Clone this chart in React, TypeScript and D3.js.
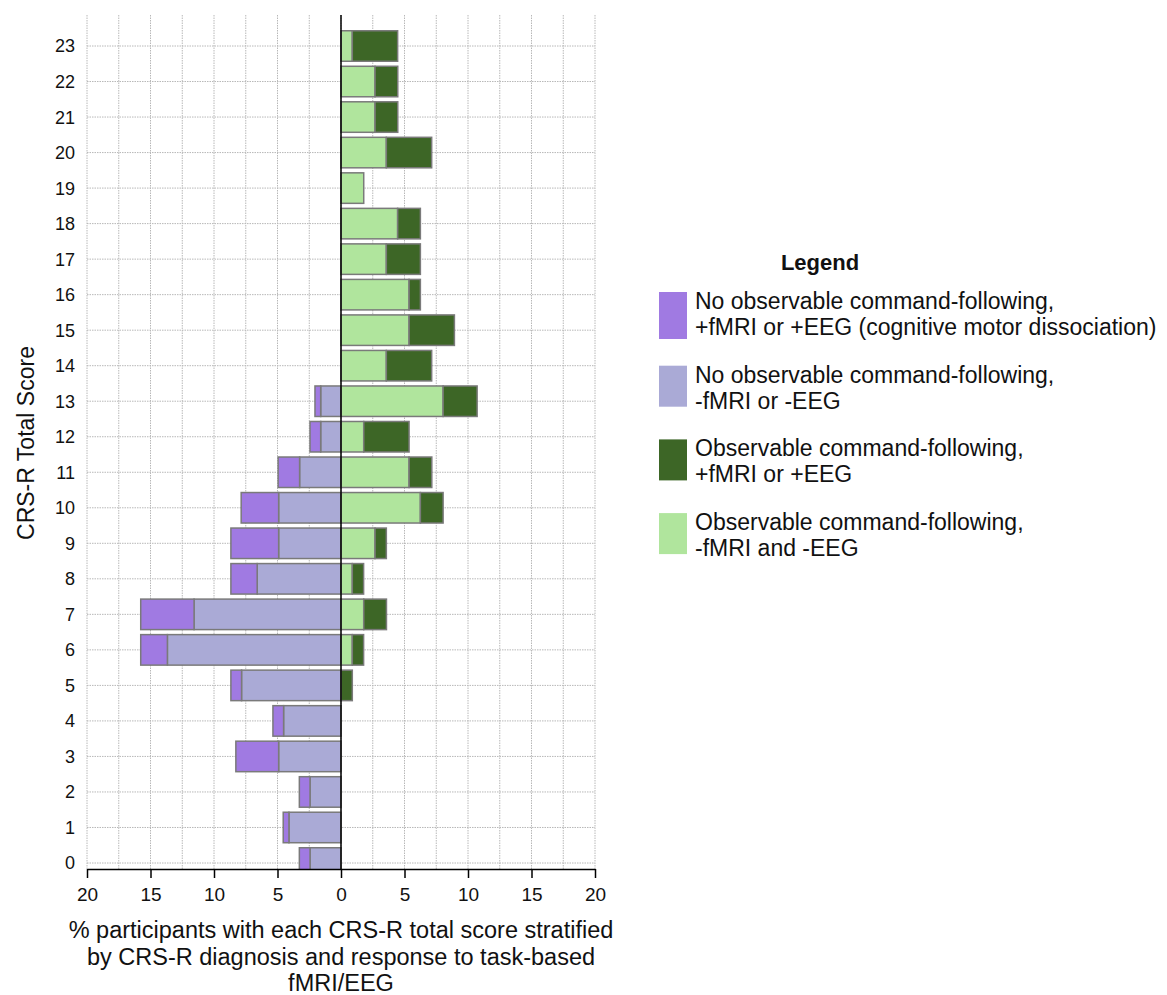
import React, { useEffect, useRef } from 'react';
import * as d3 from 'd3';

// CRS-R total score rows (0..23)
const scores = [0, 1, 2, 3, 4, 5, 6, 7, 8, 9, 10, 11, 12, 13, 14, 15, 16, 17, 18, 19, 20, 21, 22, 23];

// left side (no observable command-following), % participants
const noCmdNeg = [2.44, 4.1, 2.44, 4.91, 4.52, 7.83, 13.67, 11.57, 6.6, 4.91, 4.91, 3.26, 1.6, 1.6, 0, 0, 0, 0, 0, 0, 0, 0, 0, 0];
const noCmdPos = [0.84, 0.45, 0.84, 3.37, 0.84, 0.84, 2.1, 4.2, 2.07, 3.76, 2.95, 1.69, 0.84, 0.45, 0, 0, 0, 0, 0, 0, 0, 0, 0, 0];

// right side (observable command-following), % participants
const cmdNeg = [0, 0, 0, 0, 0, 0, 0.89, 1.79, 0.89, 2.68, 6.25, 5.36, 1.79, 8.04, 3.57, 5.36, 5.36, 3.57, 4.46, 1.79, 3.57, 2.68, 2.68, 0.89];
const cmdPos = [0, 0, 0, 0, 0, 0.89, 0.89, 1.79, 0.89, 0.89, 1.79, 1.79, 3.57, 2.68, 3.57, 3.57, 0.89, 2.68, 1.79, 0, 3.57, 1.79, 1.79, 3.57];

const xTickValues = [-20, -15, -10, -5, 0, 5, 10, 15, 20];

const legendItems = [
  { color: '#a07ae2', lines: ['No observable command-following,', '+fMRI or +EEG (cognitive motor dissociation)'] },
  { color: '#aaaad6', lines: ['No observable command-following,', '-fMRI or -EEG'] },
  { color: '#3d6626', lines: ['Observable command-following,', '+fMRI or +EEG'] },
  { color: '#b0e59d', lines: ['Observable command-following,', '-fMRI and -EEG'] },
];

const FONT = '"Liberation Sans", Arial, Helvetica, sans-serif';

export default function App() {
  const ref = useRef<SVGSVGElement>(null);

  useEffect(() => {
    const svg = d3.select(ref.current);
    svg.selectAll('*').remove();

    const left = 87, right = 595, top = 15, bottom = 869;
    const x = d3.scaleLinear().domain([-20, 20]).range([left, right]);
    const y = d3.scaleLinear().domain([0, 23]).range([863, 46]);
    const barH = 30.5;

    // clip for bars
    svg.append('defs').append('clipPath').attr('id', 'plotClip')
      .append('rect').attr('x', left).attr('y', top).attr('width', right - left).attr('height', bottom - top);

    // grid
    const grid = svg.append('g');
    grid.selectAll('line.v')
      .data(d3.range(-20, 20.01, 2.5))
      .enter().append('line')
      .attr('x1', d => x(d)).attr('x2', d => x(d))
      .attr('y1', top).attr('y2', bottom)
      .style('stroke', '#b8b8b8').style('stroke-width', 1).style('stroke-dasharray', '1.5 1');
    grid.selectAll('line.h')
      .data(scores)
      .enter().append('line')
      .attr('x1', left).attr('x2', right)
      .attr('y1', d => y(d)).attr('y2', d => y(d))
      .style('stroke', '#b8b8b8').style('stroke-width', 1).style('stroke-dasharray', '1.5 1');

    // bars
    const bars = svg.append('g').attr('clip-path', 'url(#plotClip)');
    const addSeg = (from: (i: number) => number, to: (i: number) => number, color: string) => {
      bars.selectAll(null)
        .data(scores.filter(s => Math.abs(to(s) - from(s)) > 0))
        .enter().append('rect')
        .attr('x', s => x(Math.min(from(s), to(s))))
        .attr('width', s => Math.abs(x(to(s)) - x(from(s))))
        .attr('y', s => y(s) - barH / 2)
        .attr('height', barH)
        .style('fill', color)
        .style('stroke', '#7a7a7a')
        .style('stroke-width', 1.5);
    };
    addSeg(() => 0, i => -noCmdNeg[i], legendItems[1].color);
    addSeg(i => -noCmdNeg[i], i => -(noCmdNeg[i] + noCmdPos[i]), legendItems[0].color);
    addSeg(() => 0, i => cmdNeg[i], legendItems[3].color);
    addSeg(i => cmdNeg[i], i => cmdNeg[i] + cmdPos[i], legendItems[2].color);

    // zero line
    svg.append('line')
      .attr('x1', x(0)).attr('x2', x(0)).attr('y1', top).attr('y2', bottom)
      .style('stroke', '#000').style('stroke-width', 1.5);

    // x axis
    const xAxis = svg.append('g').attr('transform', `translate(0, ${bottom})`)
      .call(d3.axisBottom(x).tickValues(xTickValues).tickSize(9).tickSizeOuter(0).tickFormat(d => String(Math.abs(+d))));
    xAxis.select('.domain').style('stroke', '#000').style('stroke-width', 1.5);
    xAxis.selectAll('.tick line').style('stroke', '#000').style('stroke-width', 1.5);
    xAxis.selectAll('.tick text').attr('y', 19).style('font-family', FONT).style('font-size', '19px').style('fill', '#111');

    // y labels
    svg.append('g').selectAll('text')
      .data(scores)
      .enter().append('text')
      .attr('x', 75).attr('y', d => y(d)).attr('dy', '0.36em')
      .attr('text-anchor', 'end')
      .style('font-family', FONT).style('font-size', '18px').style('fill', '#111')
      .text(d => d);

    // y title
    svg.append('text')
      .attr('transform', `translate(34, 443) rotate(-90)`)
      .attr('text-anchor', 'middle')
      .style('font-family', FONT).style('font-size', '23px').style('fill', '#111')
      .text('CRS-R Total Score');

    // x title
    const xt = svg.append('text')
      .attr('text-anchor', 'middle')
      .style('font-family', FONT).style('font-size', '23.5px').style('fill', '#111');
    ['% participants with each CRS-R total score stratified', 'by CRS-R diagnosis and response to task-based', 'fMRI/EEG']
      .forEach((t, i) => xt.append('tspan').attr('x', x(0)).attr('y', 938 + i * 26.5).text(t));

    // legend
    const lg = svg.append('g');
    lg.append('text')
      .attr('x', 820).attr('y', 270)
      .attr('text-anchor', 'middle')
      .style('font-family', FONT).style('font-size', '22px').style('font-weight', 'bold').style('fill', '#111')
      .text('Legend');
    legendItems.forEach((item, i) => {
      const y0 = 292 + i * 73.7;
      lg.append('rect')
        .attr('x', 659).attr('y', y0).attr('width', 28).attr('height', i === 0 ? 47 : 41)
        .style('fill', item.color);
      const t = lg.append('text')
        .style('font-family', FONT).style('font-size', '23px').style('fill', '#111');
      item.lines.forEach((ln, j) => t.append('tspan').attr('x', 695).attr('y', y0 + 17 + j * 26).text(ln));
    });
  }, []);

  return (
    <div style={{ position: 'absolute', left: 0, top: 0 }}>
      <svg ref={ref} width={1167} height={995} style={{ display: 'block', background: '#fff' }} />
    </div>
  );
}
